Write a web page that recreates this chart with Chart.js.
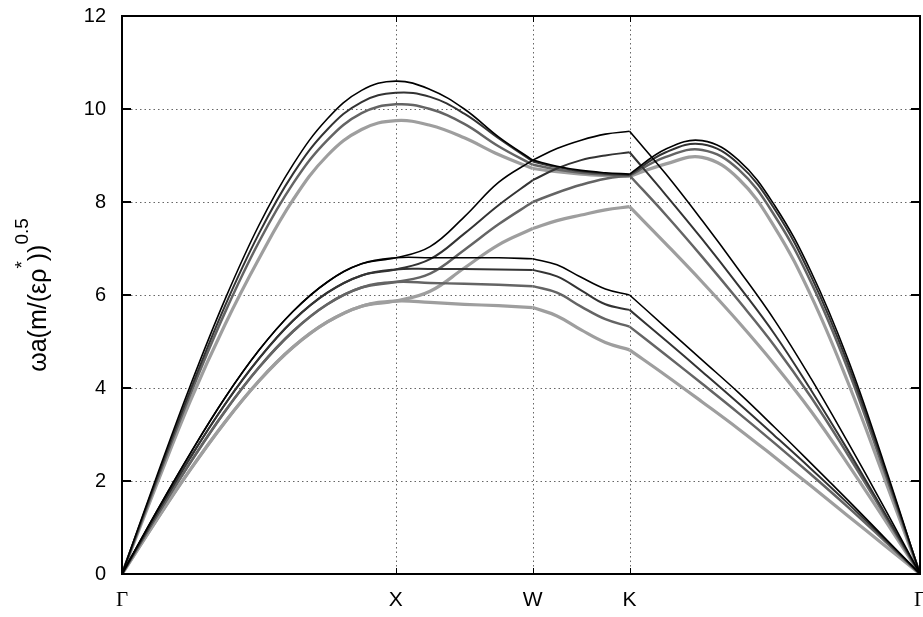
<!DOCTYPE html>
<html>
<head>
<meta charset="utf-8">
<script src="https://cdn.jsdelivr.net/npm/chart.js@4.4.1/dist/chart.umd.min.js"></script>
<style>
  html, body { margin: 0; padding: 0; background: #fff; }
</style>
</head>
<body>
<canvas id="bands" width="923" height="617"></canvas>
<script>
// wave vector along the path G-X-W-K-G (units of 2pi/a)
const kPath = [0, 0.125, 0.25, 0.375, 0.5, 0.625, 0.75, 0.875, 1,
               1.125, 1.25, 1.375, 1.5,
               1.5884, 1.6768, 1.7652, 1.8536,
               1.9862, 2.1188, 2.2514, 2.3840, 2.5165, 2.6491, 2.7817, 2.9142];
const segBreaks = [0, 12, 16, 24];   // G..W is smooth through X, kinks at W and K
const kTicks = [0, 1, 1.5, 1.8536, 2.9142];
const kLabels = ['Γ', 'X', 'W', 'K', 'Γ'];
const yTicks = [0, 2, 4, 6, 8, 10, 12];

// three branches per curve set
const blackUpper = [0, 2.07, 4.06, 5.89, 7.50, 8.81, 9.79, 10.40, 10.60, 10.42, 10.00, 9.40, 8.90, 8.77, 8.68, 8.63, 8.60, 9.14, 9.32, 8.90, 7.92, 6.50, 4.65, 2.40, 0];
const blackMiddle = [0, 1.33, 2.60, 3.78, 4.81, 5.65, 6.28, 6.67, 6.80, 7.04, 7.68, 8.42, 8.90, 9.15, 9.33, 9.46, 9.52, 8.60, 7.60, 6.55, 5.45, 4.20, 2.85, 1.45, 0];
const blackLower = [0, 1.33, 2.60, 3.78, 4.81, 5.65, 6.28, 6.67, 6.80, 6.80, 6.80, 6.80, 6.78, 6.65, 6.38, 6.13, 6.00, 5.30, 4.60, 3.90, 3.15, 2.38, 1.60, 0.80, 0];

const darkUpper = [0, 2.02, 3.96, 5.75, 7.32, 8.61, 9.56, 10.15, 10.35, 10.26, 9.90, 9.37, 8.87, 8.75, 8.66, 8.61, 8.58, 9.07, 9.24, 8.82, 7.84, 6.40, 4.55, 2.33, 0];
const darkMiddle = [0, 1.28, 2.51, 3.64, 4.63, 5.45, 6.05, 6.42, 6.55, 6.77, 7.32, 7.93, 8.47, 8.72, 8.90, 9.00, 9.07, 8.15, 7.20, 6.20, 5.15, 3.95, 2.68, 1.35, 0];
const darkLower = [0, 1.28, 2.51, 3.64, 4.63, 5.45, 6.05, 6.42, 6.55, 6.56, 6.56, 6.55, 6.54, 6.40, 6.10, 5.80, 5.68, 5.02, 4.35, 3.67, 2.97, 2.26, 1.53, 0.77, 0];

const midUpper = [0, 1.97, 3.87, 5.61, 7.14, 8.40, 9.33, 9.91, 10.10, 10.00, 9.68, 9.20, 8.80, 8.70, 8.63, 8.59, 8.57, 8.97, 9.12, 8.70, 7.70, 6.27, 4.43, 2.25, 0];
const midMiddle = [0, 1.23, 2.40, 3.49, 4.44, 5.22, 5.80, 6.16, 6.28, 6.46, 6.97, 7.52, 8.00, 8.20, 8.37, 8.50, 8.57, 7.72, 6.82, 5.88, 4.90, 3.80, 2.58, 1.30, 0];
const midLower = [0, 1.23, 2.40, 3.49, 4.44, 5.22, 5.80, 6.16, 6.28, 6.26, 6.24, 6.22, 6.19, 6.05, 5.75, 5.48, 5.32, 4.71, 4.09, 3.46, 2.81, 2.14, 1.45, 0.73, 0];

const lightUpper = [0, 1.90, 3.73, 5.35, 6.78, 8.05, 9.00, 9.56, 9.75, 9.65, 9.38, 9.02, 8.72, 8.65, 8.60, 8.57, 8.55, 8.82, 8.96, 8.50, 7.45, 5.98, 4.15, 2.10, 0];
const lightMiddle = [0, 1.15, 2.25, 3.26, 4.15, 4.88, 5.42, 5.76, 5.87, 6.08, 6.58, 7.08, 7.43, 7.60, 7.72, 7.83, 7.90, 7.10, 6.28, 5.42, 4.50, 3.50, 2.38, 1.20, 0];
const lightLower = [0, 1.15, 2.25, 3.26, 4.15, 4.88, 5.42, 5.76, 5.87, 5.84, 5.80, 5.77, 5.73, 5.55, 5.25, 4.98, 4.82, 4.27, 3.70, 3.12, 2.51, 1.89, 1.26, 0.63, 0];

const curveSets = [
  [blackUpper, blackMiddle, blackLower],
  [darkUpper, darkMiddle, darkLower],
  [midUpper, midMiddle, midLower],
  [lightUpper, lightMiddle, lightLower]
];
const setColors = ['#000000', '#333333', '#646464', '#9e9e9e'];
const setWidths = [1.6, 2, 2.5, 3.2];

function segmentPoints(vals, a, b) {
  const pts = [];
  for (let i = a; i <= b; i++) pts.push({ x: kPath[i], y: vals[i] });
  return pts;
}

// one dataset per branch per path piece so the kinks at W and K stay sharp
const datasets = [];
curveSets.forEach((set, s) => {
  set.forEach(branch => {
    for (let j = 0; j < segBreaks.length - 1; j++) {
      datasets.push({
        data: segmentPoints(branch, segBreaks[j], segBreaks[j + 1]),
        borderColor: setColors[s],
        borderWidth: setWidths[s],
        tension: 0.4,
        pointRadius: 0,
        fill: false,
        order: s
      });
    }
  });
});

const framePlugin = {
  id: 'frame',
  beforeDatasetsDraw(chart) {
    const { ctx, chartArea: a, scales } = chart;
    ctx.save();
    ctx.strokeStyle = '#666';
    ctx.lineWidth = 1;
    ctx.setLineDash([1.5, 3]);
    ctx.beginPath();
    yTicks.slice(1, -1).forEach(v => {
      const y = Math.round(scales.y.getPixelForValue(v)) + 0.5;
      ctx.moveTo(a.left, y); ctx.lineTo(a.right, y);
    });
    kTicks.slice(1, -1).forEach(v => {
      const x = Math.round(scales.x.getPixelForValue(v)) + 0.5;
      ctx.moveTo(x, a.top); ctx.lineTo(x, a.bottom);
    });
    ctx.stroke();
    ctx.restore();
  },
  afterDraw(chart) {
    const { ctx, chartArea: a, scales } = chart;
    ctx.save();
    ctx.strokeStyle = '#000';
    ctx.lineWidth = 2;
    ctx.beginPath();
    yTicks.forEach(v => {
      const y = scales.y.getPixelForValue(v);
      ctx.moveTo(a.left, y); ctx.lineTo(a.left + 9, y);
      ctx.moveTo(a.right, y); ctx.lineTo(a.right - 9, y);
    });
    ctx.stroke();
    ctx.lineWidth = 1;
    ctx.beginPath();
    kTicks.forEach(v => {
      const x = Math.round(scales.x.getPixelForValue(v)) + 0.5;
      ctx.moveTo(x, a.bottom); ctx.lineTo(x, a.bottom - 6);
      ctx.moveTo(x, a.top); ctx.lineTo(x, a.top + 6);
    });
    ctx.stroke();
    ctx.lineWidth = 2;
    ctx.strokeRect(a.left, a.top, a.right - a.left, a.bottom - a.top);

    // y axis title with superscripts
    const parts = [
      { t: 'ωa(m/(ερ', sup: false },
      { t: '*', sup: true },
      { t: '))', sup: false },
      { t: '0.5', sup: true }
    ];
    const bigFont = '25px "Liberation Sans"';
    const smallFont = '19px "Liberation Sans"';
    let total = 0;
    parts.forEach(p => {
      ctx.font = p.sup ? smallFont : bigFont;
      p.w = ctx.measureText(p.t).width;
      total += p.w;
    });
    ctx.translate(46, (a.top + a.bottom) / 2);
    ctx.rotate(-Math.PI / 2);
    ctx.fillStyle = '#000';
    ctx.textBaseline = 'alphabetic';
    let x = -total / 2;
    parts.forEach(p => {
      ctx.font = p.sup ? smallFont : bigFont;
      ctx.fillText(p.t, x, p.sup ? -18 : 0);
      x += p.w;
    });
    ctx.restore();
  }
};

Chart.defaults.font.family = '"Liberation Sans", Arial, sans-serif';
Chart.defaults.font.size = 20;
Chart.defaults.color = '#000';

new Chart(document.getElementById('bands'), {
  type: 'line',
  data: { datasets: datasets },
  options: {
    responsive: false,
    animation: false,
    layout: { padding: { left: 0, right: 3, top: 16, bottom: 0 } },
    plugins: { legend: { display: false }, tooltip: { enabled: false } },
    scales: {
      x: {
        type: 'linear',
        min: 0,
        max: kTicks[kTicks.length - 1],
        afterBuildTicks: scale => { scale.ticks = kTicks.map(v => ({ value: v })); },
        afterFit: scale => {
          scale.height = 43;
          scale.paddingLeft = 0;
          scale.paddingRight = 0;
        },
        grid: { display: false, drawTicks: false },
        border: { display: false },
        ticks: {
          padding: 14,
          maxRotation: 0,
          autoSkip: false,
          callback: (v, i) => kLabels[i],
          font: ctx => ({
            family: (ctx.index === 0 || ctx.index === 4) ? '"Liberation Serif", serif' : '"Liberation Sans", sans-serif',
            size: 21
          })
        }
      },
      y: {
        min: 0,
        max: 12,
        afterBuildTicks: scale => { scale.ticks = yTicks.map(v => ({ value: v })); },
        afterFit: scale => {
          scale.width = 122;
          scale.paddingTop = 0;
          scale.paddingBottom = 0;
        },
        grid: { display: false, drawTicks: false },
        border: { display: false },
        ticks: { padding: 16 }
      }
    }
  },
  plugins: [framePlugin]
});
</script>
</body>
</html>
